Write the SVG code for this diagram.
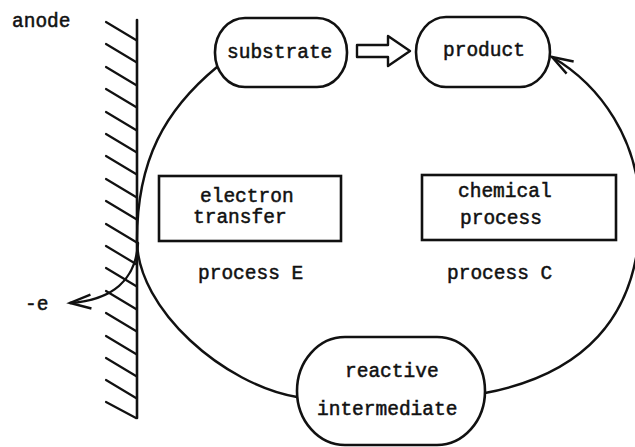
<svg xmlns="http://www.w3.org/2000/svg" width="635" height="447" viewBox="0 0 635 447">
<defs>
<style>
.t{font-family:"Liberation Mono","Courier New",monospace;font-size:19.5px;fill:#111;stroke:#111;stroke-width:0.5}
.s{fill:none;stroke:#111;stroke-width:2.4;stroke-linejoin:round;stroke-linecap:round}
.n{fill:#fff;stroke:#111;stroke-width:2.6}
.h{stroke:#111;stroke-width:2.2;stroke-linecap:round}
</style>
<marker id="ah" markerUnits="userSpaceOnUse" viewBox="-24 -10 28 20" refX="0" refY="0" markerWidth="28" markerHeight="20" orient="auto">
<path d="M-21,-7 L0,0 L-21,7" fill="none" stroke="#111" stroke-width="2.4" stroke-linejoin="miter"/>
</marker>
</defs>
<rect width="635" height="447" fill="#fff"/>
<g id="anode">
<line class="h" x1="137" y1="20" x2="137" y2="418" style="stroke-width:2.6"/>
<line class="h" x1="106" y1="22" x2="136" y2="40"/>
<line class="h" x1="106" y1="44" x2="136" y2="62"/>
<line class="h" x1="106" y1="67" x2="136" y2="85"/>
<line class="h" x1="106" y1="89" x2="136" y2="107"/>
<line class="h" x1="106" y1="112" x2="136" y2="130"/>
<line class="h" x1="106" y1="134" x2="136" y2="152"/>
<line class="h" x1="106" y1="156" x2="136" y2="174"/>
<line class="h" x1="106" y1="179" x2="136" y2="197"/>
<line class="h" x1="106" y1="201" x2="136" y2="219"/>
<line class="h" x1="106" y1="224" x2="136" y2="242"/>
<line class="h" x1="106" y1="246" x2="136" y2="264"/>
<line class="h" x1="106" y1="268" x2="136" y2="286"/>
<line class="h" x1="106" y1="291" x2="136" y2="309"/>
<line class="h" x1="106" y1="313" x2="136" y2="331"/>
<line class="h" x1="106" y1="336" x2="136" y2="354"/>
<line class="h" x1="106" y1="358" x2="136" y2="376"/>
<line class="h" x1="106" y1="380" x2="136" y2="398"/>
<line class="h" x1="106" y1="402" x2="136" y2="418"/>
<text class="t" x="12" y="27">anode</text>
<text class="t" x="25" y="310">-e</text>
</g>
<g id="connectors">
<path class="s" d="M217,67 C165,110 137,160 137,240 C137,310 225,385 297,397"/>
<path class="s" d="M485,393 C580,375 640,320 640,213 C640,140 600,85 552,57" marker-end="url(#ah)"/>
<path class="s" d="M138,243 C136,280 112,300 70,303" marker-end="url(#ah)"/>
<path class="s" d="M357,45 L388,45 L388,36 L410,51 L388,66 L388,57 L357,57 Z"/>
</g>
<g id="substrate">
<rect class="n" x="215" y="18" width="132" height="69" rx="30" ry="34"/>
<text class="t" x="227" y="58">substrate</text>
</g>
<g id="product">
<rect class="n" x="416" y="17" width="134" height="70" rx="30" ry="35"/>
<text class="t" x="443" y="56">product</text>
</g>
<g id="electron-transfer">
<rect class="n" x="159" y="176" width="182" height="65"/>
<text class="t" x="200" y="202">electron</text>
<text class="t" x="193" y="223">transfer</text>
<text class="t" x="198" y="279">process E</text>
</g>
<g id="chemical-process">
<rect class="n" x="422" y="175" width="194" height="65"/>
<text class="t" x="458" y="197">chemical</text>
<text class="t" x="460" y="224">process</text>
<text class="t" x="447" y="279">process C</text>
</g>
<g id="reactive-intermediate">
<rect class="n" x="297" y="337" width="188" height="108" rx="48" ry="54"/>
<text class="t" x="345" y="377">reactive</text>
<text class="t" x="317" y="415">intermediate</text>
</g>
</svg>
